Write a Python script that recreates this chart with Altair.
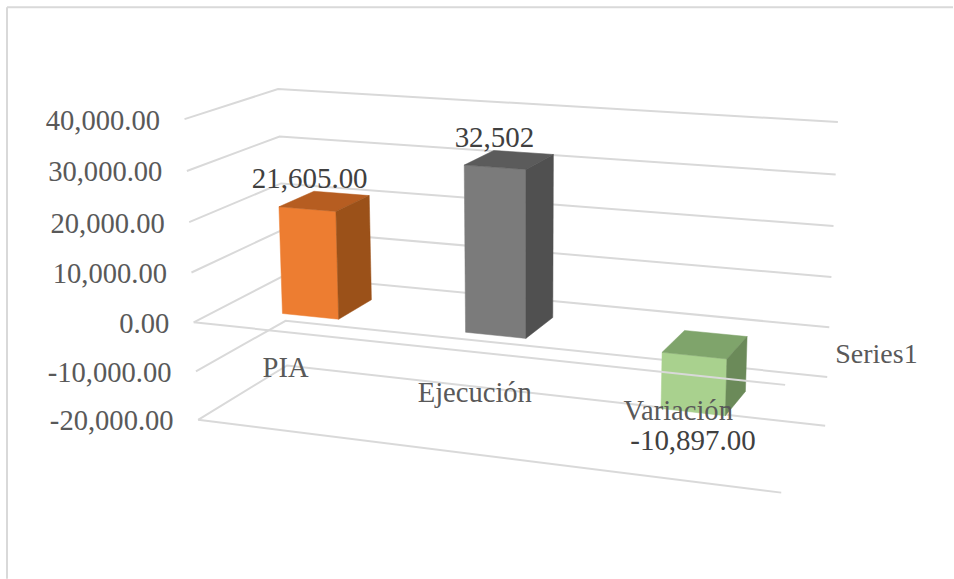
import altair as alt
import numpy as np
import pandas as pd

# Chart content
CATEGORIES = ["PIA", "Ejecución", "Variación"]
VALUES = [21605, 32502, -10897]
VALUE_LABELS = ["21,605.00", "32,502", "-10,897.00"]
AXIS_VALUES = [40000, 30000, 20000, 10000, 0, -10000, -20000]
SERIES_NAME = "Series1"

# Face colours per bar: front, top, side
FACE_COLORS = [
    ("#ED7D31", "#B65D21", "#9B5119"),
    ("#7B7B7B", "#5B5B5B", "#505050"),
    ("#A9D18E", "#7FA46B", "#6B8A59"),
]
GRID_COLOR = "#D9D9D9"
TEXT_COLOR = "#595959"
VALUE_COLOR = "#404040"
FONT = "Liberation Serif"
FONT_SIZE = 28.6
VALUE_FONT_SIZE = 29

# Bars sit inside the unit floor: width along the category axis, extent along depth
BAR_HALF_WIDTH = 0.0524
BAR_DEPTH = (0.30, 0.70)

# Category labels hang below each bar's base at these page offsets
CATEGORY_LABEL_OFFSETS = [(-42, 71), (-35, 77), (-27, 76)]

# Where the box corners fall on the page: (u, v, value, x, y)
BOX_CORNERS = [
    (0, 0, 40000, 185, 119), (0, 0, 0, 194, 322), (0, 0, -20000, 198, 420),
    (0, 1, 40000, 278, 89), (0, 1, 0, 284, 275), (0, 1, -20000, 288, 366),
    (1, 1, 40000, 839, 122), (1, 1, 0, 830, 327), (1, 1, -20000, 826, 426),
    (1, 0, 0, 786, 385), (1, 0, -20000, 782, 493),
]


def fit_camera(corners):
    """Least-squares pinhole camera for the chart box."""
    rows = []
    for u, v, val, x, y in corners:
        X = [u, v, val / 20000, 1]
        sx, sy = x / 1000, y / 1000
        rows.append(X + [0, 0, 0, 0] + [-sx * c for c in X])
        rows.append([0, 0, 0, 0] + X + [-sy * c for c in X])
    _, _, vt = np.linalg.svd(np.array(rows, dtype=float))
    return vt[-1].reshape(3, 4)


CAMERA = fit_camera(BOX_CORNERS)


def project(u, v, val):
    p = CAMERA @ np.array([u, v, val / 20000, 1.0])
    return 1000 * p[0] / p[2], 1000 * p[1] / p[2]


def path_rows(name, points, color="none"):
    rows = []
    for i, (u, v, val) in enumerate(points):
        x, y = project(u, v, val)
        rows.append({"id": name, "seq": i, "x": x, "y": y, "color": color})
    return rows


# Walls: side wall then back wall at each axis value
grid_rows = []
for val in AXIS_VALUES:
    grid_rows += path_rows(f"wall{val}", [(0, 0, val), (0, 1, val), (1, 1, val)])

# Front edges of the two floors run in front of the bars
front_rows = []
for val in (0, AXIS_VALUES[-1]):
    front_rows += path_rows(f"front{val}", [(0, 0, val), (1, 0, val)])

# Bars as three visible faces each
bar_rows = []
for i, (val, colors) in enumerate(zip(VALUES, FACE_COLORS)):
    uc = (i + 0.5) / 3
    u0, u1 = uc - BAR_HALF_WIDTH, uc + BAR_HALF_WIDTH
    v0, v1 = BAR_DEPTH
    hi, lo = max(val, 0), min(val, 0)
    front, top, side = colors
    bar_rows += path_rows(f"b{i}front", [(u0, v0, lo), (u1, v0, lo), (u1, v0, hi), (u0, v0, hi), (u0, v0, lo)], front)
    bar_rows += path_rows(f"b{i}top", [(u0, v0, hi), (u1, v0, hi), (u1, v1, hi), (u0, v1, hi), (u0, v0, hi)], top)
    bar_rows += path_rows(f"b{i}side", [(u1, v0, lo), (u1, v1, lo), (u1, v1, hi), (u1, v0, hi), (u1, v0, lo)], side)

# Text placed from projected anchors
axis_rows = []
for val in AXIS_VALUES:
    x, y = project(0, 0, val)
    axis_rows.append({"x": x - 24.5, "y": y + 10.5, "label": f"{val:,.2f}"})

value_rows = []
category_rows = []
for i, (name, val, lab) in enumerate(zip(CATEGORIES, VALUES, VALUE_LABELS)):
    uc = (i + 0.5) / 3
    if val >= 0:
        x, y = project(uc, 0.5, val)
        value_rows.append({"x": x - 15, "y": y - 13, "label": lab})
    else:
        x, y = project(uc, 0.3, val)
        value_rows.append({"x": x, "y": y + 38, "label": lab})
    x, y = project(uc, 0.5, 0)
    dx, dy = CATEGORY_LABEL_OFFSETS[i]
    category_rows.append({"x": x + dx, "y": y + dy, "label": name})

sx, sy = project(1, 0.5, 0)
series_rows = [{"x": sx + 27, "y": sy + 8, "label": SERIES_NAME}]

X = alt.X("x:Q", scale=alt.Scale(domain=[0, 954], range=[0, 954]), axis=None)
Y = alt.Y("y:Q", scale=alt.Scale(domain=[0, 579], range=[0, 579]), axis=None)


def lines(rows):
    return alt.Chart(pd.DataFrame(rows)).mark_line(color=GRID_COLOR, strokeWidth=2).encode(
        x=X, y=Y, detail="id:N", order="seq:Q"
    )


def texts(rows, align, color, size=FONT_SIZE):
    return alt.Chart(pd.DataFrame(rows)).mark_text(
        font=FONT, fontSize=size, align=align, baseline="alphabetic", color=color
    ).encode(x=X, y=Y, text="label:N")


bars = alt.Chart(pd.DataFrame(bar_rows)).mark_line(strokeWidth=0.5).encode(
    x=X,
    y=Y,
    detail="id:N",
    order="seq:Q",
    fill=alt.Fill("color:N", scale=None),
    stroke=alt.Stroke("color:N", scale=None),
)

# Chart-area border: only the left and top sides show
border_left = alt.Chart(pd.DataFrame({"a": [0]})).mark_rule(color=GRID_COLOR, strokeWidth=2).encode(
    x=alt.value(7), y=alt.value(7), y2=alt.value(579)
)
border_top = alt.Chart(pd.DataFrame({"a": [0]})).mark_rule(color=GRID_COLOR, strokeWidth=2).encode(
    x=alt.value(7), x2=alt.value(954), y=alt.value(7)
)

chart = alt.layer(
    border_left,
    border_top,
    lines(grid_rows),
    bars,
    lines(front_rows),
    texts(axis_rows, "right", TEXT_COLOR),
    texts(category_rows, "center", TEXT_COLOR),
    texts(series_rows, "left", TEXT_COLOR, 28),
    texts(value_rows, "center", VALUE_COLOR, VALUE_FONT_SIZE),
).properties(
    width=954, height=579, padding=0, background="white"
).configure_view(stroke=None)

chart.save("out.html", embed_options={"renderer": "svg", "actions": False})
